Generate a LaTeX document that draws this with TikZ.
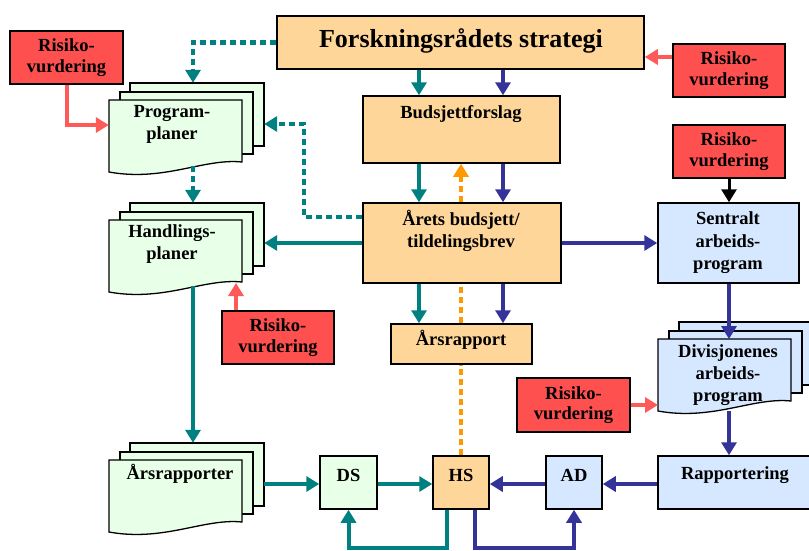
\documentclass[tikz,border=0pt]{standalone}
\usepackage{fontspec}
\setmainfont{Liberation Serif}
\usetikzlibrary{arrows.meta,fit}
\definecolor{tealc}{RGB}{0,128,128}
\definecolor{navyc}{RGB}{51,51,153}
\definecolor{orgc}{RGB}{255,153,0}
\definecolor{riskc}{RGB}{255,80,80}
\definecolor{riskl}{RGB}{255,90,90}
\definecolor{peachc}{RGB}{255,214,153}
\definecolor{greenc}{RGB}{232,255,232}
\definecolor{bluec}{RGB}{214,232,255}
\tikzset{
  box/.style={draw=black, line width=1.5pt, inner sep=0pt},
  peach/.style={box, fill=peachc},
  risk/.style={box, fill=riskc, minimum width=113pt, minimum height=53pt, align=center, font=\fontsize{18.5}{20.5}\selectfont\bfseries},
  lightb/.style={box, fill=bluec},
  greenb/.style={box, fill=greenc},
  lbl/.style={align=center, inner sep=0pt},
  docl/.style={draw=black, line width=1.3pt},
  tip/.style={-{Triangle[length=13pt,width=15pt]}},
  tealarr/.style={tip, draw=tealc, line width=4pt},
  navyarr/.style={tip, draw=navyc, line width=4pt},
  tealdot/.style={tip, draw=tealc, line width=4.5pt, dash pattern=on 6pt off 4pt},
  orgdot/.style={tip, draw=orgc, line width=4.5pt, dash pattern=on 6pt off 4pt},
  redarr/.style={tip, draw=riskl, line width=4pt},
  blackarr/.style={tip, draw=black, line width=3pt},
}
\newcommand\docstack[4]{%
  \begin{scope}[shift={(#2,#3)}]
    \filldraw[docl, fill=#4] (21,-17) rectangle (155,46);
    \filldraw[docl, fill=#4] (11,-8) rectangle (144,54);
    \filldraw[docl, fill=#4] (0,0) -- (133,0) -- (133,62) .. controls (95,58) and (55,82) .. (0,72) -- cycle;
    \coordinate (#1-nw) at (0,-17);
    \coordinate (#1-se) at (155,72);
    \coordinate (#1-ft) at (0,0);
    \coordinate (#1-b) at (84,66);
  \end{scope}
  \node[fit=(#1-nw)(#1-se), inner sep=0pt] (#1) {};
}
\begin{document}
\begin{tikzpicture}[x=1pt,y=-1pt, font=\fontsize{18.5}{22}\selectfont\bfseries]
\fill[white] (0,0) rectangle (809,550);
\useasboundingbox (0,0) rectangle (809,550);

% columns and rows
\coordinate (colT) at (419,0);
\coordinate (colN) at (503,0);
\coordinate (colO) at (461,0);
\coordinate (colP) at (193,0);
\coordinate (colD) at (304,0);
\coordinate (colS) at (729,0);
\coordinate (colHa) at (447,0);
\coordinate (colHb) at (475,0);
\coordinate (rowA) at (0,125);
\coordinate (rowB) at (0,217);
\coordinate (rowC) at (0,124);
\coordinate (rowD) at (0,243);
\coordinate (rowE) at (0,548);
\coordinate (rowF) at (0,57);
\coordinate (rowG) at (0,484);

% boxes
\node[peach, minimum width=367pt, minimum height=53pt] (title) at (460.5,42.5) {};
\node[lbl] (tTitle) at (461,41) {\fontsize{26}{30}\selectfont Forskningsrådets strategi};
\node[peach, minimum width=197pt, minimum height=67pt] (bud) at (461.5,129.5) {};
\node[lbl] (tBud) at (461,114) {Budsjettforslag};
\node[peach, minimum width=198pt, minimum height=80pt] (arets) at (462,243) {};
\node[lbl] (tArets) at (461,231) {Årets budsjett/\\tildelingsbrev};
\node[peach, minimum width=141pt, minimum height=40pt] (arsr) at (461.5,344) {};
\node[lbl] (tArsr) at (461,340) {Årsrapport};

\node[greenb, minimum width=57pt, minimum height=53pt] (ds) at (348.5,482.5) {};
\node[lbl] (tDs) at (348.5,475) {DS};
\node[peach, minimum width=56pt, minimum height=53pt] (hs) at (461,482.5) {};
\node[lbl] (tHs) at (461,475) {HS};
\node[lightb, minimum width=56pt, minimum height=53pt] (ad) at (574,482.5) {};
\node[lbl] (tAd) at (574,475) {AD};
\node[lightb, minimum width=154pt, minimum height=53pt] (rap) at (735,482.5) {};
\node[lbl] (tRap) at (735,475) {Rapportering};
\node[lightb, minimum width=141pt, minimum height=80pt] (sa) at (728.5,243) {};
\node[lbl, font=\fontsize{18.5}{22.5}\selectfont\bfseries] (tSa) at (728,243) {Sentralt\\arbeids-\\program};

\node[risk] (r1) at (66.5,57.5) {Risiko-\\vurdering};
\node[risk, minimum width=112pt] (r3) at (729,70.5) {Risiko-\\vurdering};
\node[risk, minimum width=112pt] (r4) at (729,151.5) {Risiko-\\vurdering};
\node[risk, minimum width=112pt] (r2) at (278,337.5) {Risiko-\\vurdering};
\node[risk, minimum height=54pt] (r5) at (573.5,405) {Risiko-\\vurdering};

% document stacks
\docstack{pp}{109}{100}{greenc}
\node[lbl] (tPp) at (172,124) {Program-\\planer};
\docstack{hp}{109}{220}{greenc}
\node[lbl] (tHp) at (172,244) {Handlings-\\planer};
\docstack{ar}{109}{460}{greenc}
\node[lbl] (tAr) at (180,474) {Årsrapporter};
\docstack{dv}{658}{339}{bluec}
\node[lbl] (tDv) at (728,375) {Divisjonenes\\arbeids-\\program};

\coordinate (hpR) at (236,283);
\coordinate (dvB) at (729,411);

% connectors: central column
\draw[tealarr] (colT |- title.south) -- (colT |- bud.north);
\draw[navyarr] (colN |- title.south) -- (colN |- bud.north);
\draw[tealarr] (colT |- bud.south) -- (colT |- arets.north);
\draw[navyarr] (colN |- bud.south) -- (colN |- arets.north);
\draw[tealarr] (colT |- arets.south) -- (colT |- arsr.north);
\draw[navyarr] (colN |- arets.south) -- (colN |- arsr.north);
\draw[orgdot, -] (colO |- hs.north) -- (colO |- arsr.south);
\draw[orgdot, -] (colO |- arsr.north) -- (colO |- arets.south);
\draw[orgdot] (colO |- arets.north) -- (colO |- bud.south);

% left side
\draw[tealdot] (title.west) -| (colP |- pp.north);
\draw[redarr] (r1.south) |- (pp.west |- rowA);
\draw[tealdot] (arets.west |- rowB) -- (colD |- rowB) -- (colD |- rowC) -- (pp.east |- rowC);
\draw[tealdot] (pp-b) -- (colP |- hp.north);
\draw[tealarr] (arets.west |- rowD) -- (hp.east |- rowD);
\draw[redarr] (hpR |- r2.north) -- (hpR);
\draw[tealarr] (hp-b) -- (colP |- ar.north);
\draw[tealarr] (ar.east |- rowG) -- (ds.west |- rowG);

% bottom row
\draw[tealarr] (ds.east |- rowG) -- (hs.west |- rowG);
\draw[navyarr] (ad.west |- rowG) -- (hs.east |- rowG);
\draw[navyarr] (rap.west |- rowG) -- (ad.east |- rowG);
\draw[tealarr] (colHa |- hs.south) -- (colHa |- rowE) -| (ds.south);
\draw[navyarr] (colHb |- hs.south) -- (colHb |- rowE) -| (ad.south);

% right side
\draw[navyarr] (arets.east |- rowD) -- (sa.west |- rowD);
\draw[redarr] (r3.west |- rowF) -- (title.east |- rowF);
\draw[blackarr] (r4.south) -- (colS |- sa.north);
\draw[navyarr] (colS |- sa.south) -- (colS |- dv-ft);
\draw[redarr] (r5.east) -- (r5.east -| dv-ft);
\draw[navyarr] (dvB) -- (colS |- rap.north);
\end{tikzpicture}
\end{document}
